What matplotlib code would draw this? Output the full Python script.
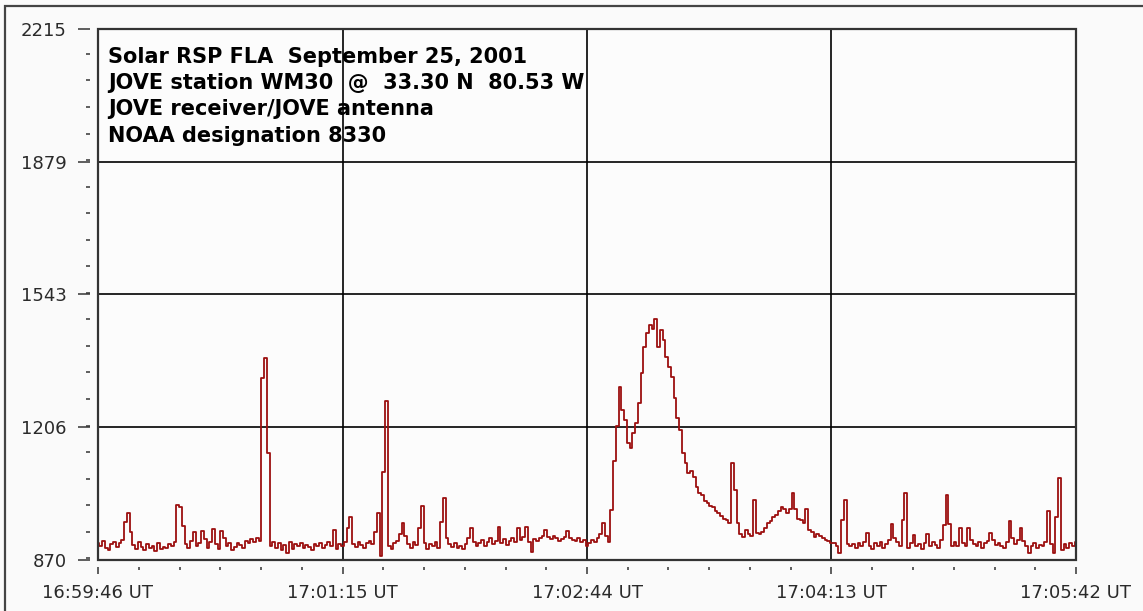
import numpy as np
import matplotlib
matplotlib.use("Agg")
import matplotlib.pyplot as plt
from matplotlib.ticker import FixedLocator, MultipleLocator
from matplotlib.patches import Rectangle

# Time axis: seconds after 16:59:46 UT, one sample per second
time_ticks_s = [0, 89, 178, 267, 356]
time_labels = ["16:59:46 UT", "17:01:15 UT", "17:02:44 UT", "17:04:13 UT", "17:05:42 UT"]
level_ticks = [870, 1206, 1543, 1879, 2215]
sample_step_s = 1

header_lines = [
    "Solar RSP FLA  September 25, 2001",
    "JOVE station WM30  @  33.30 N  80.53 W",
    "JOVE receiver/JOVE antenna",
    "NOAA designation 8330",
]

# Receiver output level, 16:59:46 - 17:05:42 UT
signal = [
    912, 905, 918, 900, 896, 910, 915, 904, 912, 920, 966, 989, 940, 908, 898, 915, 902, 895, 910, 900,
    906, 893, 912, 898, 904, 900, 911, 905, 915, 1009, 1005, 955, 910, 900, 918, 941, 905, 912, 943, 922,
    900, 915, 948, 910, 898, 943, 925, 905, 912, 896, 902, 914, 908, 900, 918, 912, 922, 915, 925, 918,
    1330, 1382, 1141, 905, 915, 900, 912, 895, 908, 888, 915, 898, 910, 905, 912, 900, 908, 903, 895, 910,
    905, 912, 900, 908, 915, 905, 946, 898, 910, 905, 915, 950, 980, 910, 903, 915, 908, 900, 912, 918,
    910, 940, 990, 880, 1093, 1272, 905, 898, 912, 918, 935, 964, 930, 910, 900, 915, 908, 950, 1006, 912,
    898, 910, 905, 915, 900, 966, 1026, 925, 910, 903, 912, 900, 905, 898, 910, 925, 950, 915, 905, 912,
    920, 905, 915, 925, 910, 918, 954, 912, 922, 908, 918, 925, 915, 951, 920, 928, 954, 915, 890, 922,
    918, 925, 930, 946, 928, 922, 930, 925, 918, 922, 928, 943, 925, 920, 918, 925, 915, 920, 905, 912,
    920, 915, 925, 935, 964, 930, 916, 997, 1120, 1210, 1308, 1250, 1225, 1166, 1154, 1192, 1217, 1268, 1344, 1410,
    1445, 1465, 1455, 1480, 1410, 1453, 1427, 1384, 1359, 1333, 1280, 1230, 1199, 1141, 1116, 1090, 1095, 1080, 1055, 1040,
    1035, 1020, 1014, 1008, 1004, 995, 989, 982, 975, 971, 964, 1116, 1047, 964, 935, 928, 946, 935, 930, 1022,
    938, 935, 940, 950, 964, 970, 979, 985, 995, 1004, 999, 989, 1000, 1040, 999, 975, 971, 964, 999, 946,
    940, 928, 935, 930, 925, 921, 918, 913, 913, 905, 888, 971, 1022, 910, 905, 910, 900, 912, 905, 915,
    938, 905, 898, 912, 905, 915, 900, 910, 920, 960, 925, 915, 905, 971, 1040, 900, 912, 933, 905, 910,
    898, 912, 936, 905, 915, 908, 900, 920, 959, 1035, 961, 905, 915, 905, 951, 912, 905, 951, 920, 910,
    905, 915, 900, 912, 918, 938, 920, 908, 912, 905, 900, 915, 969, 925, 910, 920, 950, 918, 905, 888,
    905, 912, 900, 908, 905, 915, 994, 910, 888, 979, 1077, 895, 910, 900, 912, 905, 915,
]

t = np.arange(len(signal)) * sample_step_s

fig = plt.figure(figsize=(11.43, 6.11), dpi=100, facecolor="#fafafa")
ax = fig.add_axes([98 / 1143, 1 - 560 / 611, 978 / 1143, 531 / 611])
ax.set_facecolor("#fcfcfc")

ax.plot(t, signal, drawstyle="steps-mid", color="#9c1010", lw=1.3, zorder=3)

ax.set_xlim(time_ticks_s[0], time_ticks_s[-1])
ax.set_ylim(level_ticks[0], level_ticks[-1])

ax.xaxis.set_major_locator(FixedLocator(time_ticks_s))
ax.xaxis.set_minor_locator(MultipleLocator((time_ticks_s[1] - time_ticks_s[0]) / 6))
ax.yaxis.set_major_locator(FixedLocator(level_ticks))
ax.yaxis.set_minor_locator(MultipleLocator((level_ticks[-1] - level_ticks[0]) / 20))
ax.set_xticklabels(time_labels)
ax.set_yticklabels([str(v) for v in level_ticks])

# ticks sit a little away from the plot frame
ax.spines["left"].set_position(("outward", 5.8))
ax.spines["bottom"].set_position(("outward", 5.0))
for s in ax.spines.values():
    s.set_visible(False)

ax.tick_params(axis="y", which="major", length=8.6, width=1.1, color="#333333",
               pad=8, labelsize=13, labelcolor="#2a2a2a")
ax.tick_params(axis="y", which="minor", length=2.9, width=1.1, color="#333333")
ax.tick_params(axis="x", which="major", length=5.0, width=1.1, color="#333333",
               pad=7, labelsize=13, labelcolor="#2a2a2a")
ax.tick_params(axis="x", which="minor", length=2.2, width=1.1, color="#333333")

ax.grid(True, which="major", color="#000000", lw=1.2, zorder=2)
ax.set_axisbelow(False)

# plot frame
ax.add_patch(Rectangle((0, 0), 1, 1, transform=ax.transAxes, fill=False,
                       edgecolor="#333333", lw=1.6, clip_on=False, zorder=4))

baselines = [0.936, 0.887, 0.838, 0.787]
for line, yb in zip(header_lines, baselines):
    ax.text(0.0102, yb, line, transform=ax.transAxes, fontsize=15,
            fontweight="bold", family="DejaVu Sans", color="black",
            va="baseline", ha="left", zorder=1)

# outer border of the picture
fig.add_artist(Rectangle((5 / 1143, -0.05), 1.2, 1 - 6 / 611 + 0.05,
                         transform=fig.transFigure, fill=False,
                         edgecolor="#444444", lw=1.6))

fig.savefig("out.png", dpi=100, facecolor=fig.get_facecolor())
